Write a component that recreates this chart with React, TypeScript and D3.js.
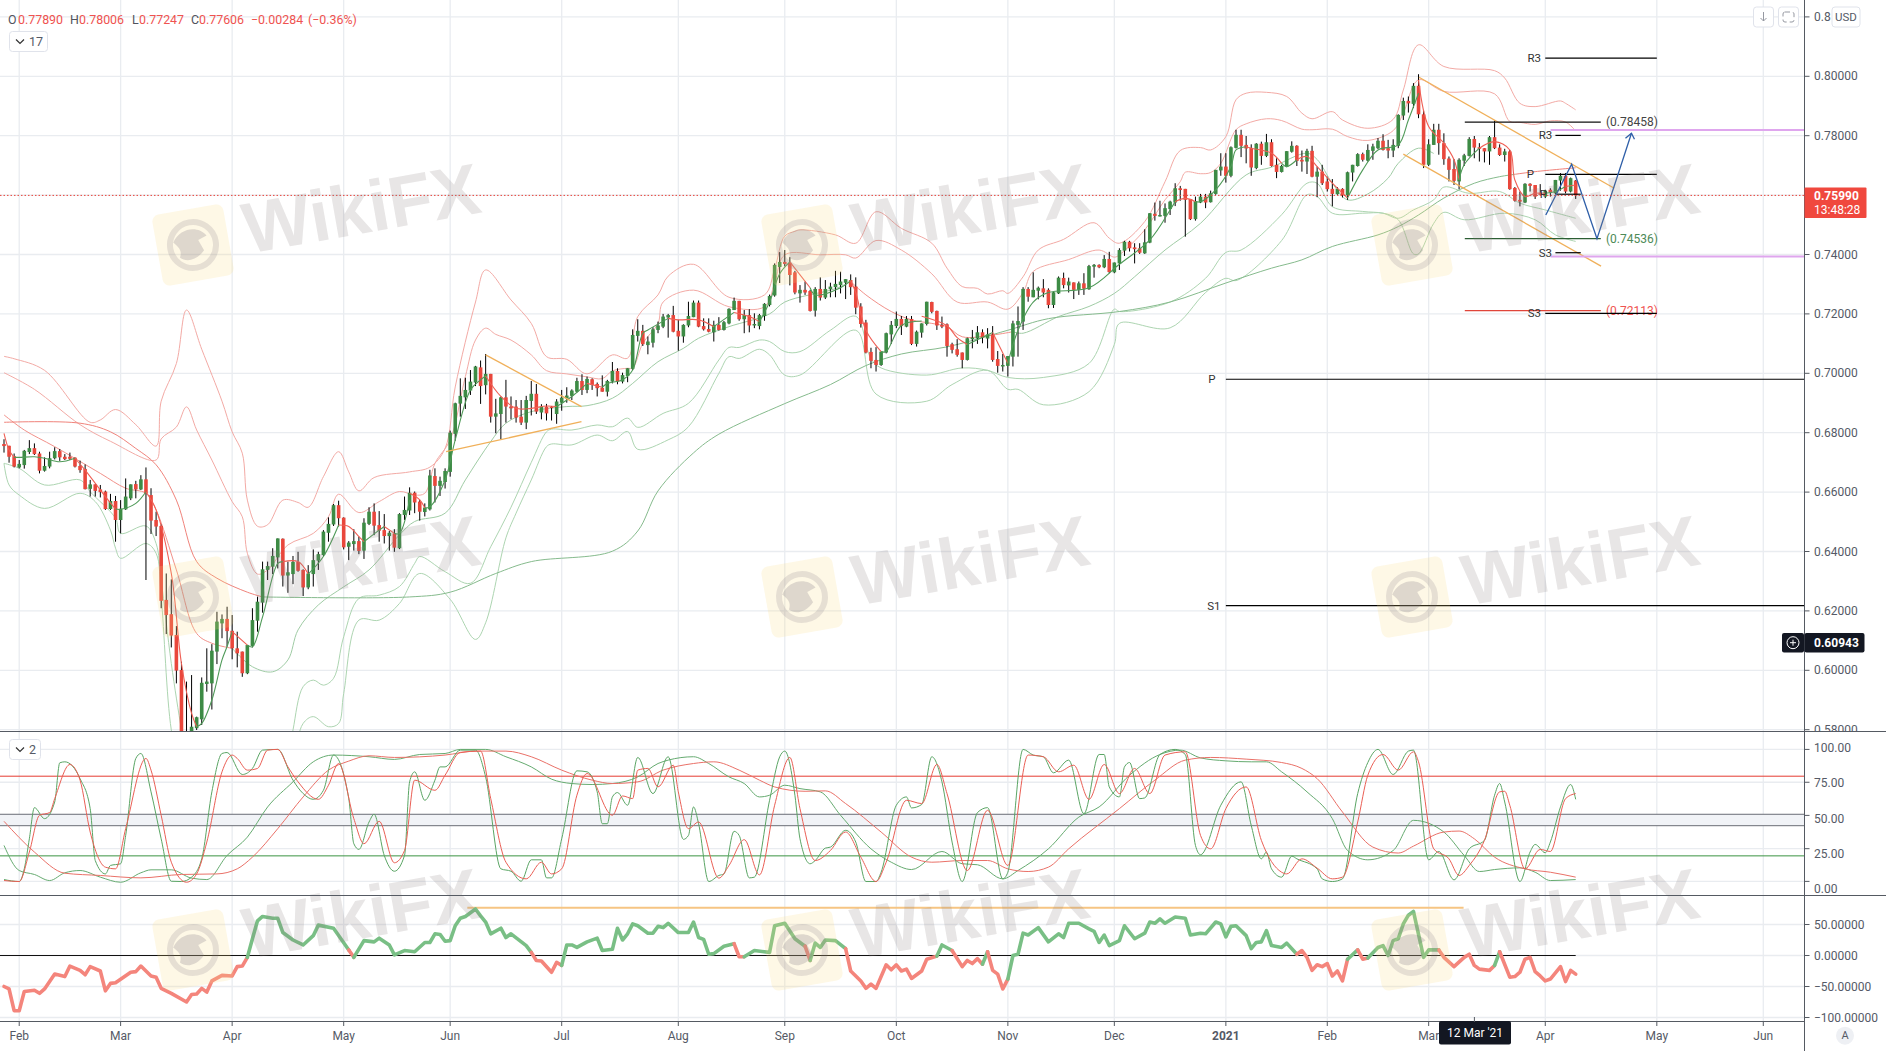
import { useEffect, useRef } from 'react';
import * as d3 from 'd3';

// Candles, daily, in 1/10000 of a price unit
const opens = [6762,6756,6721,6683,6691,6735,6748,6730,6672,6686,6714,6738,6719,6719,6716,6688,6678,6611,6626,6609,6602,6543,6570,6506,6542,6579,6627,6609,6643,6590,6506,6486,6237,6189,6119,6001,5780,5740,5805,5835,5954,5956,6063,6158,6173,6133,6074,6063,5990,6082,6167,6228,6338,6349,6380,6443,6319,6324,6365,6338,6279,6324,6369,6388,6463,6491,6556,6514,6416,6425,6435,6403,6493,6534,6489,6472,6452,6461,6411,6523,6538,6598,6568,6533,6542,6654,6621,6634,6668,6796,6898,6919,6942,6969,7020,6960,6998,6854,6863,6919,6888,6888,6854,6834,6907,6931,6868,6888,6888,6863,6901,6916,6924,6938,6974,6944,6980,6964,6951,6938,6972,7008,6972,6991,7015,7126,7143,7095,7103,7146,7157,7188,7196,7143,7124,7161,7189,7238,7159,7149,7138,7163,7146,7168,7213,7244,7182,7196,7161,7159,7193,7230,7262,7358,7375,7372,7340,7269,7281,7277,7211,7284,7255,7283,7290,7297,7305,7314,7292,7225,7171,7072,7045,7028,7070,7131,7159,7183,7157,7183,7099,7137,7166,7240,7210,7163,7165,7098,7081,7070,7045,7115,7117,7138,7117,7131,7048,7025,7025,7056,7163,7174,7284,7256,7278,7286,7281,7230,7269,7321,7296,7306,7281,7303,7283,7359,7365,7357,7385,7340,7370,7413,7443,7424,7421,7404,7440,7537,7530,7530,7553,7575,7623,7621,7587,7519,7575,7595,7576,7604,7683,7696,7665,7759,7803,7769,7759,7691,7773,7732,7778,7702,7678,7696,7746,7766,7719,7713,7749,7662,7679,7646,7621,7603,7621,7599,7676,7698,7738,7716,7749,7758,7783,7758,7750,7766,7868,7917,7907,7968,7872,7702,7769,7820,7775,7723,7688,7646,7716,7732,7789,7761,7758,7747,7795,7760,7735,7747,7624,7584,7575,7638,7634,7606,7595,7618,7606,7649,7665,7612,7649];
const closes = [6755,6719,6686,6695,6739,6748,6728,6672,6688,6714,6738,6717,6711,6712,6686,6674,6610,6626,6604,6600,6543,6570,6506,6544,6585,6626,6609,6643,6596,6504,6484,6234,6186,6117,5999,5780,5730,5810,5842,5958,5962,6066,6164,6173,6132,6074,6057,5990,6085,6169,6231,6340,6351,6385,6444,6319,6330,6365,6335,6279,6326,6371,6391,6467,6493,6556,6512,6414,6430,6435,6402,6497,6534,6487,6470,6452,6463,6413,6526,6540,6598,6565,6534,6548,6656,6621,6638,6671,6800,6899,6924,6944,6972,7023,6957,6998,6854,6865,6919,6888,6882,6851,6834,6910,6931,6871,6888,6865,6886,6905,6918,6925,6942,6974,6944,6981,6961,6950,6938,6974,7008,6972,6994,7017,7129,7143,7098,7107,7148,7161,7191,7196,7140,7124,7163,7193,7238,7157,7148,7140,7163,7146,7172,7217,7244,7182,7196,7161,7166,7196,7234,7260,7365,7375,7368,7331,7272,7281,7272,7210,7284,7255,7284,7292,7301,7309,7317,7290,7221,7166,7070,7042,7028,7073,7135,7163,7183,7159,7183,7099,7140,7168,7241,7207,7161,7157,7092,7079,7062,7045,7118,7120,7138,7120,7131,7045,7025,7028,7058,7168,7176,7284,7258,7281,7288,7272,7230,7273,7322,7297,7309,7281,7303,7285,7361,7365,7357,7385,7341,7373,7415,7443,7421,7418,7406,7441,7539,7530,7533,7556,7578,7623,7617,7584,7519,7580,7595,7575,7606,7685,7696,7665,7761,7803,7766,7757,7693,7773,7732,7778,7698,7678,7698,7748,7766,7715,7713,7749,7662,7679,7640,7620,7604,7621,7599,7677,7702,7738,7719,7752,7764,7783,7752,7750,7769,7870,7917,7909,7968,7872,7702,7771,7820,7775,7721,7685,7648,7719,7734,7789,7760,7758,7747,7795,7758,7735,7747,7620,7581,7578,7638,7631,7595,7601,7615,7609,7651,7665,7612,7657,7599];
const highs = [6778,6756,6730,6708,6742,6775,6764,6736,6717,6736,6751,6745,6728,6733,6717,6706,6693,6641,6627,6624,6605,6594,6587,6573,6646,6626,6638,6657,6683,6613,6534,6491,6326,6306,6149,6029,5962,5984,5844,5976,6074,6088,6197,6188,6214,6186,6130,6063,6085,6209,6248,6366,6366,6411,6444,6444,6366,6385,6399,6340,6354,6407,6399,6472,6515,6560,6571,6515,6435,6475,6450,6512,6549,6562,6536,6526,6469,6475,6529,6585,6616,6602,6574,6562,6675,6680,6652,6680,6807,6901,6983,6985,7011,7025,7043,7065,6998,6914,6922,6978,6922,6910,6910,6924,6974,6964,6896,6897,6890,6913,6944,6953,6946,6985,6997,6989,6983,6969,6993,6978,7038,7017,7002,7017,7148,7182,7163,7124,7155,7174,7200,7200,7227,7180,7165,7241,7245,7245,7185,7185,7177,7189,7176,7219,7255,7244,7213,7216,7202,7200,7236,7265,7370,7408,7415,7391,7345,7297,7309,7281,7290,7323,7314,7305,7345,7342,7317,7333,7323,7236,7180,7086,7088,7073,7137,7176,7208,7193,7193,7193,7144,7168,7241,7241,7211,7191,7168,7103,7115,7070,7120,7146,7159,7148,7152,7159,7075,7065,7058,7177,7225,7290,7290,7340,7292,7317,7286,7275,7326,7339,7322,7306,7309,7337,7365,7368,7367,7398,7409,7373,7421,7446,7446,7438,7438,7485,7539,7575,7581,7572,7581,7640,7631,7621,7587,7595,7604,7604,7615,7685,7741,7741,7764,7820,7820,7799,7771,7775,7780,7806,7788,7724,7702,7748,7781,7768,7750,7756,7766,7696,7702,7662,7654,7627,7623,7679,7702,7741,7743,7771,7773,7792,7805,7786,7788,7872,7928,7932,7977,8007,7884,7788,7840,7840,7808,7730,7721,7724,7739,7795,7799,7775,7758,7799,7851,7771,7756,7752,7627,7612,7640,7640,7634,7637,7618,7623,7651,7674,7674,7659,7651];
const lows = [6733,6699,6683,6680,6679,6728,6725,6663,6669,6680,6710,6705,6708,6708,6683,6665,6609,6585,6585,6582,6540,6540,6433,6461,6540,6573,6579,6607,6304,6459,6452,6209,6122,6077,5956,5740,5620,5510,5799,5816,5928,5868,6021,6108,6080,6037,6010,5978,5987,6077,6130,6194,6304,6324,6343,6282,6261,6290,6332,6250,6273,6282,6338,6385,6433,6486,6484,6407,6371,6403,6391,6375,6489,6455,6433,6427,6403,6399,6408,6506,6523,6529,6504,6518,6538,6565,6587,6612,6652,6773,6854,6880,6927,6957,6897,6929,6834,6798,6778,6834,6845,6834,6826,6812,6858,6863,6845,6841,6841,6830,6874,6901,6910,6935,6927,6933,6944,6922,6938,6922,6966,6963,6966,6970,7011,7107,7092,7064,7087,7135,7152,7120,7138,7076,7103,7155,7189,7155,7144,7138,7107,7144,7144,7165,7213,7177,7135,7138,7152,7148,7177,7225,7258,7304,7360,7296,7266,7238,7264,7208,7191,7245,7250,7256,7256,7269,7250,7264,7199,7154,7067,7017,7006,7025,7067,7099,7152,7129,7155,7095,7090,7120,7161,7202,7146,7152,7056,7067,7056,7017,7043,7084,7099,7101,7084,7039,7002,7006,6989,7023,7056,7146,7241,7256,7249,7256,7219,7220,7267,7286,7272,7250,7264,7264,7281,7322,7354,7354,7337,7337,7348,7395,7410,7370,7402,7402,7438,7514,7528,7507,7533,7563,7581,7460,7516,7514,7573,7556,7575,7601,7665,7642,7660,7757,7728,7707,7665,7687,7702,7728,7696,7657,7676,7694,7743,7698,7679,7671,7660,7593,7634,7612,7562,7601,7592,7584,7646,7696,7713,7713,7719,7755,7750,7724,7728,7758,7853,7878,7893,7859,7691,7698,7769,7736,7702,7646,7634,7620,7698,7730,7724,7713,7710,7702,7755,7732,7713,7618,7578,7562,7573,7612,7587,7599,7590,7595,7604,7615,7606,7609,7587];

// Band and average lines as [bar, price x 10000]
const upperOuter = [[0,7057],[2,7049],[8,7010],[17,6835],[19,6843],[22,6878],[26,6827],[30,6755],[31,6906],[34,7033],[36,7213],[39,7081],[43,6906],[45,6803],[47,6731],[48,6573],[50,6485],[52,6490],[55,6573],[58,6565],[60,6549],[63,6652],[66,6736],[68,6668],[70,6604],[73,6649],[80,6668],[84,6684],[87,6747],[89,6954],[93,7240],[95,7348],[100,7247],[104,7168],[107,7056],[111,7047],[115,6998],[120,7062],[123,7051],[125,7191],[129,7264],[131,7327],[136,7367],[143,7256],[150,7264],[152,7351],[154,7462],[156,7478],[157,7483],[164,7466],[168,7438],[172,7544],[177,7488],[183,7438],[186,7354],[189,7292],[192,7286],[194,7267],[197,7278],[198,7269],[201,7325],[204,7415],[209,7451],[215,7507],[218,7455],[220,7438],[225,7511],[229,7645],[232,7750],[236,7760],[238,7752],[241,7797],[243,7921],[245,7943],[249,7946],[253,7932],[256,7876],[258,7857],[262,7881],[264,7853],[269,7825],[274,7855],[276,7954],[279,8106],[284,8033],[294,8019],[296,7994],[299,7909],[302,7898],[307,7917],[308,7909],[310,7887]];
const upperInner = [[0,7002],[6,6946],[15,6827],[21,6771],[30,6708],[31,6779],[34,6819],[36,6887],[38,6809],[41,6708],[45,6568],[47,6517],[48,6394],[50,6324],[52,6338],[56,6422],[61,6461],[64,6517],[66,6593],[70,6531],[74,6568],[78,6602],[81,6590],[83,6596],[85,6697],[88,6776],[91,6989],[93,7112],[95,7152],[97,7131],[100,7112],[104,7062],[107,7009],[111,6998],[115,6988],[118,6982],[120,7008],[123,7017],[124,7017],[126,7101],[129,7168],[130,7240],[136,7280],[143,7224],[150,7224],[152,7304],[154,7399],[161,7399],[166,7399],[168,7388],[172,7447],[177,7415],[183,7335],[188,7240],[194,7240],[198,7216],[201,7272],[203,7343],[210,7383],[216,7415],[219,7391],[220,7399],[225,7483],[229,7584],[232,7645],[233,7677],[236,7672],[238,7676],[240,7707],[243,7820],[245,7840],[249,7857],[252,7851],[256,7822],[258,7820],[262,7822],[265,7797],[269,7784],[274,7817],[276,7876],[279,7988],[284,7949],[294,7941],[297,7848],[299,7845],[302,7838],[305,7850],[308,7846],[310,7816]];
const lowerInner = [[0,6697],[3,6680],[8,6624],[15,6641],[17,6601],[22,6512],[23,6461],[28,6486],[30,6427],[31,6304],[33,6023],[35,5799],[36,5700],[42,5500],[52,5500],[56,5700],[57,5799],[59,5945],[61,5967],[63,5950],[65,5973],[67,6113],[70,6242],[74,6253],[78,6282],[81,6360],[82,6383],[87,6332],[92,6293],[96,6416],[100,6549],[104,6700],[107,6803],[108,6812],[112,6809],[117,6826],[120,6820],[123,6849],[125,6818],[130,6865],[135,6899],[141,7045],[143,7087],[145,7087],[149,7112],[151,7107],[154,7073],[157,7073],[163,7145],[168,7192],[171,7049],[173,7018],[182,6994],[189,7018],[194,7010],[198,6986],[205,6986],[214,7033],[219,7216],[220,7208],[230,7240],[237,7320],[241,7407],[244,7415],[252,7534],[257,7640],[259,7640],[262,7561],[268,7545],[272,7539],[275,7522],[278,7550],[282,7584],[284,7627],[289,7606],[295,7612],[299,7573],[304,7550],[310,7522]];
const lowerOuter = [[0,6697],[1,6624],[3,6590],[8,6545],[15,6596],[18,6568],[21,6472],[22,6411],[23,6377],[28,6427],[30,6394],[31,6248],[33,5799],[35,5650],[40,5400],[50,5400],[57,5700],[59,5821],[61,5844],[64,5810],[66,5821],[67,5922],[70,6169],[74,6169],[78,6225],[82,6326],[88,6239],[93,6104],[95,6160],[99,6446],[101,6529],[104,6641],[107,6753],[108,6762],[112,6759],[117,6792],[120,6773],[123,6804],[125,6744],[131,6776],[135,6820],[141,7000],[143,7056],[145,7050],[149,7081],[151,7062],[154,6994],[157,6994],[168,7145],[172,6930],[182,6906],[187,6962],[194,7010],[198,6946],[200,6946],[205,6894],[214,6938],[219,7097],[220,7168],[230,7153],[237,7272],[241,7320],[243,7312],[252,7447],[257,7601],[259,7595],[262,7539],[268,7539],[272,7539],[275,7517],[278,7402],[279,7402],[282,7505],[284,7542],[288,7517],[296,7539],[302,7517],[306,7466],[310,7444]];

// Averages are drawn red while falling and green while rising
const mediumRuns = [
  ['r', [[0,6860],[4,6809],[10,6753],[19,6663],[24,6613],[28,6596],[30,6540],[34,6338],[38,6124],[41,6091],[45,6074]]],
  ['g', [[45,6074],[49,6012],[53,5995],[56,6035],[58,6136],[62,6220],[67,6281],[72,6338],[78,6456],[81,6501],[87,6529],[91,6641],[96,6770],[99,6832],[104,6871],[111,6888],[115,6891],[120,6916],[124,6966],[129,7039],[134,7084],[137,7118],[143,7157],[151,7200],[154,7240],[164,7285],[167,7309]]],
  ['r', [[167,7309],[170,7264],[175,7208],[179,7180],[183,7168],[186,7157],[189,7123],[195,7129],[199,7140]]],
  ['g', [[199,7140],[201,7135],[208,7191],[214,7225],[219,7269],[223,7325],[229,7415],[236,7505],[245,7668],[250,7694],[257,7741],[259,7720],[262,7640],[265,7584],[269,7604],[273,7657],[275,7707],[279,7758],[282,7740]]],
];
const longRuns = [
  ['r', [[0,6835],[15,6832],[21,6803],[26,6747],[30,6692],[34,6573],[38,6366],[42,6310],[48,6263],[51,6247]]],
  ['g', [[51,6247],[80,6247],[88,6263],[97,6326],[104,6366],[120,6401],[125,6469],[129,6604],[136,6732],[141,6795],[154,6898],[163,6962],[170,7026],[177,7065],[186,7089],[198,7145],[206,7184],[220,7208],[230,7240],[241,7304],[250,7354],[256,7382],[262,7427],[271,7466],[275,7494],[279,7533],[284,7590],[290,7640],[295,7662],[298,7670]]],
  ['r', [[298,7670],[302,7679],[310,7692]]],
];
const shortRuns = [
  ['r', [[0,6798],[1,6742],[2,6717]]],
  ['g', [[2,6717],[3,6717],[6,6719],[8,6714],[11,6702],[14,6714]]],
  ['r', [[14,6714],[16,6674],[20,6585],[22,6543]]],
  ['g', [[22,6543],[23,6542],[26,6562],[28,6601]]],
  ['r', [[28,6601],[30,6540],[33,6326],[35,6023],[37,5855],[38,5810]]],
  ['g', [[38,5810],[39,5821],[41,5900],[43,6035],[44,6080],[45,6130]]],
  ['r', [[45,6130],[48,6085]]],
  ['g', [[48,6085],[49,6079],[51,6180],[54,6360],[55,6366]]],
  ['r', [[55,6366],[58,6366],[60,6324]]],
  ['g', [[60,6324],[63,6383],[66,6489]]],
  ['r', [[66,6489],[68,6484],[70,6450],[71,6433]]],
  ['g', [[71,6433],[74,6472],[75,6484]]],
  ['r', [[75,6484],[77,6461]]],
  ['g', [[77,6461],[78,6461],[80,6574]]],
  ['r', [[80,6596],[82,6574],[83,6546]]],
  ['g', [[83,6546],[84,6551],[87,6641],[89,6776],[92,6944],[94,6978],[95,6991]]],
  ['r', [[95,6991],[98,6922],[101,6882],[104,6882],[107,6890],[109,6888]]],
  ['g', [[109,6888],[112,6922],[115,6966]]],
  ['r', [[115,6966],[118,6953]]],
  ['g', [[118,6953],[119,6966],[122,6978],[124,7011],[126,7135],[127,7146],[131,7185]]],
  ['r', [[131,7185],[133,7180],[137,7180],[140,7157]]],
  ['g', [[140,7157],[144,7205]]],
  ['r', [[144,7205],[147,7191],[149,7174]]],
  ['g', [[149,7174],[151,7240],[153,7335],[155,7375]]],
  ['r', [[155,7375],[159,7288]]],
  ['g', [[159,7288],[160,7264],[165,7288],[167,7312]]],
  ['r', [[167,7312],[168,7272],[170,7145],[173,7073]]],
  ['g', [[173,7073],[174,7073],[177,7161],[181,7176]]],
  ['r', [[181,7192],[186,7160],[188,7120],[190,7097]]],
  ['g', [[190,7097],[195,7137]]],
  ['r', [[195,7137],[198,7034]]],
  ['g', [[198,7034],[200,7145],[203,7240],[206,7272],[214,7288],[220,7367],[226,7449],[230,7550],[231,7578]]],
  ['r', [[231,7578],[233,7589],[235,7578]]],
  ['g', [[235,7578],[236,7578],[239,7618],[242,7696],[243,7752],[245,7763]]],
  ['r', [[245,7763],[246,7758],[250,7741],[252,7707]]],
  ['g', [[252,7707],[253,7696],[255,7719]]],
  ['r', [[255,7719],[257,7730],[259,7696],[262,7640],[265,7590]]],
  ['g', [[265,7590],[268,7685],[271,7752],[275,7769],[277,7853],[279,7943]]],
  ['r', [[279,7988],[281,7831],[284,7775],[286,7719],[287,7651]]],
  ['g', [[287,7651],[288,7702],[291,7758]]],
  ['r', [[291,7758],[294,7780],[297,7752],[298,7651],[300,7595],[302,7606],[304,7606]]],
  ['g', [[304,7606],[306,7612],[308,7629]]],
  ['r', [[308,7629],[310,7634]]],
];

// Stochastic pane, [bar, value]
const stochFastK = [[0,6.7],[3,5.3],[4,14.3],[5,35.6],[6,57.7],[8,49.9],[10,61.7],[11,89.5],[12,90.2],[15,78.3],[17,57],[18,20.2],[20,10.7],[21,16.7],[23,17.9],[24,38],[26,92.6],[27,96.1],[29,68.9],[31,35.6],[33,5.5],[35,5.3],[37,8.4],[39,21.4],[41,68.9],[43,96.1],[44,96.8],[47,81.2],[49,85.5],[51,98.5],[54,99],[57,77.2],[59,67.7],[61,63.6],[63,70],[65,95],[68,64.1],[69,32.1],[70,28.1],[72,47.5],[73,53],[75,23.8],[77,12.6],[79,23.8],[80,76],[81,83.1],[83,62.9],[85,77.2],[86,86.6],[87,86.6],[90,98.5],[93,98.5],[95,79.5],[98,14.3],[100,12.6],[102,5.5],[104,20.7],[106,20.7],[107,7.9],[108,7.9],[110,35.6],[113,83.8],[115,83.1],[117,68.9],[118,46.3],[119,46.3],[120,65.3],[121,68.4],[123,59.4],[125,93.3],[128,67.7],[131,93.8],[134,35.2],[135,38],[136,58.2],[137,46.3],[139,5.3],[141,9.6],[142,10.7],[144,40.9],[145,38],[147,7.9],[148,8.4],[151,62.9],[153,93.8],[154,97.8],[156,66.5],[157,35.6],[159,17.9],[160,20.2],[162,29],[163,29.7],[166,41.6],[168,33.3],[170,5.3],[172,5.3],[173,11.9],[176,59.4],[178,65.3],[179,57.5],[181,59.9],[183,93.8],[185,76],[187,33.3],[189,5.3],[192,54.2],[194,57.7],[197,7.2],[198,11.9],[201,99],[203,95],[205,93.8],[207,82.4],[210,91.4],[213,53.4],[216,95.4],[217,95.4],[218,72.4],[220,65.3],[221,86.6],[222,89.7],[224,64.1],[225,64.6],[228,95.4],[231,99],[233,95.4],[235,30.9],[236,24.3],[240,59.4],[244,76],[246,45.1],[248,21.4],[249,26.2],[250,14.3],[252,8.4],[254,23.3],[255,21.4],[259,14.3],[260,7.2],[262,5.3],[264,7.2],[267,67.7],[269,89.7],[271,99],[274,81.2],[277,97.8],[278,98.5],[281,20.7],[283,26.6],[286,6.5],[289,28.5],[292,34.5],[294,66.5],[295,74.8],[296,61.7],[299,5.3],[301,26.2],[302,31.6],[304,25.7],[305,33.3],[307,58.2],[309,74.1],[310,63.6]];
const stochFastD = [[0,6],[3,5.3],[5,26.2],[7,52.3],[9,54.2],[10,64.1],[13,88.3],[15,77.2],[17,40.4],[20,15.5],[22,14.3],[24,42.8],[28,92.6],[29,84.3],[31,52.3],[33,19],[36,4.8],[38,10.7],[40,33.3],[43,83.1],[45,95],[46,92.6],[48,84.3],[50,85.5],[52,98.5],[54,99],[56,86.6],[58,76],[62,63.6],[64,73.6],[66,89],[69,49.9],[71,32.1],[74,48],[77,18.6],[79,27.3],[81,77.2],[85,70],[87,80.7],[90,96.9],[94,97.8],[96,64.1],[99,19],[103,7.2],[106,19],[108,10.7],[110,14.3],[113,66.5],[115,81.9],[120,52.3],[122,66],[124,64.1],[125,84.3],[127,85.5],[129,72.4],[132,87.8],[133,68.9],[135,42.8],[137,47.5],[141,7.7],[143,16.7],[146,35],[149,10],[152,59.4],[155,93.3],[157,57],[160,20.2],[163,27.3],[166,40.4],[169,22.6],[172,5.3],[174,19],[178,62.9],[181,60.6],[184,88.3],[186,67.7],[190,13.1],[194,55.8],[198,16.7],[202,95],[205,93.8],[208,83.1],[211,87.8],[214,63.6],[217,88.3],[220,67.7],[223,85.5],[226,67.7],[229,95],[233,97.3],[236,38],[238,28.5],[241,57],[245,72.4],[248,34.5],[252,11.9],[253,10.7],[256,21.4],[259,14.8],[262,7.2],[264,8.4],[267,47.5],[269,80.7],[272,95.4],[275,84.3],[278,97.3],[279,90.2],[282,28.5],[285,21.4],[287,9.6],[289,16.7],[292,34.5],[295,68.9],[296,69.3],[297,59.4],[300,14.3],[303,28.1],[305,26.6],[308,64.1],[310,67.7]];
const stochSlowK = [[0,30.9],[3,13.1],[6,10.3],[9,6],[12,11.5],[15,13.1],[19,8.4],[23,4.8],[27,11.5],[29,13.6],[33,13.6],[37,7.7],[40,6.7],[44,23.8],[48,36.8],[52,58.2],[57,76],[61,90.2],[65,95],[72,93.8],[77,91.9],[82,95.4],[87,96.1],[90,99],[95,99],[99,93.8],[104,86.6],[108,77.9],[112,74.8],[116,74.1],[120,74.8],[125,79.5],[129,89],[131,91.4],[136,93.8],[139,89],[143,79.5],[146,74.8],[149,65.3],[151,66.5],[154,73.6],[157,71.2],[161,68.9],[165,52.3],[171,28.5],[175,19],[179,13.8],[185,26.6],[189,17.9],[192,17.2],[197,7.2],[200,13.1],[206,28.5],[212,51],[216,58.2],[222,80.7],[228,95.4],[232,98.5],[236,93],[241,90.9],[246,90.2],[249,90.2],[252,83.1],[257,68.9],[262,49.9],[265,27.3],[269,20.7],[274,27.3],[278,48.7],[284,40.4],[288,23.8],[291,12.4],[294,13.8],[299,15],[302,11.9],[305,6],[310,6.7]];
const stochSlowD = [[0,48],[6,26.2],[12,11.2],[19,9.6],[27,7.9],[35,10.3],[42,10.7],[46,14.3],[49,22.6],[54,42.8],[59,65.3],[64,84.3],[68,90.7],[72,94.5],[77,93.3],[87,95],[93,97.8],[99,97.8],[104,93.8],[110,84.3],[116,77.2],[120,74.8],[125,76],[130,84.3],[136,89],[140,90.2],[145,84.3],[149,77.2],[152,72.4],[158,69.3],[162,69.6],[166,60.6],[173,40.4],[179,22.6],[183,19],[189,20.2],[194,20.2],[198,14.3],[202,12.4],[206,15.5],[210,28.5],[220,57],[227,77.2],[233,91.4],[238,93.3],[245,92.1],[252,89.7],[256,85.5],[259,78.3],[264,54.6],[270,29.7],[275,25.5],[278,30.4],[284,40.4],[287,41.1],[290,35.6],[294,22.6],[300,14.3],[305,11.9],[310,8.4]];

// CCI pane, [bar, value], split by colour
const cciRuns = [
  ['r', [[0,-50],[1,-54],[2,-89],[3,-89],[4,-58],[6,-56],[7,-61],[8,-54],[10,-30],[12,-34],[13,-17],[15,-24],[16,-31],[17,-18],[19,-25],[20,-57],[21,-45],[22,-44],[25,-27],[26,-26],[27,-17],[29,-33],[30,-35],[31,-53],[33,-61],[36,-75],[37,-63],[38,-62],[39,-53],[40,-59],[41,-41],[43,-32],[45,-33],[46,-18],[47,-17],[48,-3]]],
  ['g', [[48,-3],[49,27],[50,56],[51,63],[53,60],[54,60],[55,37],[57,25],[59,17],[61,32],[62,49],[65,44],[68,9]]],
  ['r', [[68,9],[69,-3]]],
  ['g', [[69,-3],[71,24],[73,22],[74,28],[76,17],[77,1],[79,8],[81,6],[83,21],[84,21],[85,35],[86,34],[87,23],[88,24],[89,48],[90,60],[91,63],[93,75],[94,64],[95,54],[96,35],[98,44],[99,29],[100,35],[103,16],[104,5]]],
  ['r', [[104,5],[105,-8],[106,-9],[108,-27],[109,-11],[110,-16]]],
  ['g', [[110,-16],[111,17],[112,17],[113,13],[115,22],[117,28],[118,8],[120,10],[121,44],[122,25],[123,35],[124,51],[125,48],[127,36],[128,36],[129,47],[130,45],[131,52],[133,37],[135,37],[136,54],[137,29],[138,26],[139,2],[140,3],[142,15],[144,19]]],
  ['r', [[144,19],[145,-2],[146,-2]]],
  ['g', [[146,-2],[148,8],[151,5],[152,48],[154,52],[156,27],[158,15]]],
  ['r', [[158,15],[159,-8]]],
  ['g', [[159,-8],[160,20],[161,13],[162,25],[164,24],[166,11]]],
  ['r', [[166,11],[167,-25],[169,-41],[170,-53],[171,-46],[172,-53],[174,-15],[175,-23],[176,-15],[177,-25],[178,-22],[179,-37],[181,-25],[182,-6],[184,-1]]],
  ['g', [[184,-1],[185,17],[187,8]]],
  ['r', [[187,8],[189,-18],[190,-8],[191,-13],[192,-5],[193,-14]]],
  ['g', [[193,-14],[194,6]]],
  ['r', [[194,6],[195,-24],[196,-30],[197,-54],[198,-38]]],
  ['g', [[198,-38],[199,0],[200,2],[201,36],[202,33],[204,45],[206,22],[208,35],[209,29],[210,52],[212,52],[214,43],[215,39],[216,21],[217,33],[218,16],[220,24],[221,48],[223,27],[225,36],[226,54],[227,52],[228,59],[229,52],[231,62],[233,60],[234,33],[236,36],[237,35],[239,54],[240,51],[241,30],[242,47],[243,48],[245,32],[246,11],[247,21],[248,22],[249,40],[250,16],[252,13],[253,20],[255,2]]],
  ['r', [[255,2],[256,8],[257,-3],[258,-24],[259,-15],[260,-18],[261,-13],[262,-33],[263,-25],[264,-41],[265,-6]]],
  ['g', [[265,-6],[267,9]]],
  ['r', [[267,9],[268,-6],[269,-4]]],
  ['g', [[269,-4],[271,13],[272,16],[273,0],[274,24],[275,27],[276,51],[277,65],[278,71],[280,-3],[281,9],[283,9]]],
  ['r', [[283,9],[284,-3],[286,-18],[288,-3],[289,2],[290,-16],[291,-22],[293,-24],[294,-16]]],
  ['g', [[294,-16],[295,6]]],
  ['r', [[295,6],[297,-35],[298,-34],[299,-27],[300,-6],[301,-3],[302,-26],[303,-33],[304,-41],[305,-38],[307,-18],[308,-42],[309,-24],[310,-30]]],
];

// Axis ticks and labels
const monthBars = [3,23,45,67,88,110,133,154,176,198,219,241,261,281,304,326,347];
const monthLabels = ['Feb','Mar','Apr','May','Jun','Jul','Aug','Sep','Oct','Nov','Dec','2021','Feb','Mar','Apr','May','Jun'];
const priceTicks = [0.82,0.8,0.78,0.76,0.74,0.72,0.7,0.68,0.66,0.64,0.62,0.6,0.58];
const stochGrid = [99,75.7,52.2,28.6,5.4];
const stochLabels = [100,75,50,25,0];
const cciTicks = [50,0,-50,-100];

// Drawing tools on the chart
const pivots = [
  { label: 'R3', price: 0.8061, from: 304, to: 326, labelDx: -11 },
  { label: 'R3', price: 0.7801, from: 306, to: 311, labelDx: -10 },
  { label: 'P', price: 0.767, from: 304, to: 326, labelDx: -15 },
  { label: 'P', price: 0.7603, from: 306, to: 311, labelDx: -12 },
  { label: 'S3', price: 0.7406, from: 306, to: 311, labelDx: -10 },
  { label: 'S3', price: 0.7202, from: 304, to: 326, labelDx: -11 },
  { label: 'P', price: 0.698, from: 241, to: 355.1, labelDx: -14 },
  { label: 'S1', price: 0.6218, from: 241, to: 355.1, labelDx: -12 },
];
const targets = [
  { text: '(0.78458)', price: 0.78458, color: '#111111', textColor: '#444444' },
  { text: '(0.74536)', price: 0.74536, color: '#2c5e34', textColor: '#4d8a57' },
  { text: '(0.72113)', price: 0.72113, color: '#e0453a', textColor: '#ef5350' },
];
const magentaLevels = [0.7819, 0.7393];
const orangeLines = [
  [[95,0.7062],[113.9,0.6888]],
  [[87.2,0.6736],[113.9,0.6837]],
  [[279.1,0.7997],[317.6,0.7623]],
  [[276,0.7738],[315,0.7361]],
];
const bluePath = [[304.1,0.7533],[309.2,0.7704],[314.2,0.7453],[321,0.7808]];
const watermarkRows = [245, 597, 950];
const watermarkCols = [193, 802, 1412];
const header = [
  { t: 'O', x: 8, c: '#50535e' }, { t: '0.77890', x: 18, c: '#ef5350' },
  { t: 'H', x: 70, c: '#50535e' }, { t: '0.78006', x: 79, c: '#ef5350' },
  { t: 'L', x: 132, c: '#50535e' }, { t: '0.77247', x: 139, c: '#ef5350' },
  { t: 'C', x: 191, c: '#50535e' }, { t: '0.77606', x: 199, c: '#ef5350' },
  { t: '\u22120.00284', x: 251, c: '#ef5350' }, { t: '(\u22120.36%)', x: 308, c: '#ef5350' },
];

const W = 1886;
const H = 1051;
const AXIS_X = 1804.5;
const RED = '#e9473c';
const GREEN = '#3d8b45';
const TEXT = '#555a66';
const GRID = '#e9ecf0';
const FONT = 'Roboto, sans-serif';

export default function App() {
  const svgRef = useRef<SVGSVGElement>(null);

  useEffect(() => {
    const svg = d3.select(svgRef.current);
    svg.selectAll('*').remove();

    const x = d3.scaleLinear().domain([0, 310]).range([4, 4 + 310 * 5.07]);
    const yPrice = d3.scaleLinear().domain([0.8, 0.7]).range([76.3, 373.3]);
    const yPip = (p: number) => yPrice(p / 10000);
    const yStoch = d3.scaleLinear().domain([0, 100]).range([889, 748]);
    const yCci = d3.scaleLinear().domain([0, 50]).range([955.5, 924.5]);

    svg.append('rect').attr('width', W).attr('height', H).attr('fill', '#fff');

    const defs = svg.append('defs');
    defs.append('clipPath').attr('id', 'main-clip').append('rect')
      .attr('width', AXIS_X).attr('height', 731);
    defs.append('clipPath').attr('id', 'scale-clip').append('rect')
      .attr('x', AXIS_X).attr('width', W - AXIS_X).attr('height', 732);

    // Grid
    const grid = svg.append('g').attr('stroke', GRID).attr('stroke-width', 1.3);
    grid.selectAll('.v').data(monthBars).enter().append('line')
      .attr('x1', d => x(d)).attr('x2', d => x(d))
      .attr('y1', 0).attr('y2', 1022);
    grid.selectAll('.p').data(priceTicks).enter().append('line')
      .attr('x1', 0).attr('x2', AXIS_X)
      .attr('y1', d => yPrice(d)).attr('y2', d => yPrice(d));
    grid.selectAll('.s').data(stochGrid).enter().append('line')
      .attr('x1', 0).attr('x2', AXIS_X)
      .attr('y1', d => yStoch(d)).attr('y2', d => yStoch(d));
    grid.selectAll('.c').data(cciTicks).enter().append('line')
      .attr('x1', 0).attr('x2', AXIS_X)
      .attr('y1', d => yCci(d)).attr('y2', d => yCci(d));

    const main = svg.append('g').attr('clip-path', 'url(#main-clip)');

    // Bands
    const pipLine = d3.line<number[]>()
      .x(d => x(d[0])).y(d => yPip(d[1]))
      .curve(d3.curveCatmullRom.alpha(0.5));
    const addPip = (pts: number[][], color: string, width = 1) =>
      main.append('path').datum(pts)
        .attr('fill', 'none').attr('stroke', color)
        .attr('stroke-width', width)
        .attr('d', pipLine);
    addPip(upperOuter, '#f3aaa5');
    addPip(upperInner, '#f3aaa5');
    addPip(lowerInner, '#add5b1');
    addPip(lowerOuter, '#add5b1');
    mediumRuns.forEach(([c, pts]: any) => addPip(pts, c === 'r' ? '#f2918a' : '#a0cca5'));
    longRuns.forEach(([c, pts]: any) => addPip(pts, c === 'r' ? '#f0837b' : '#86bb8d'));

    // Candles
    const bars = main.append('g');
    opens.forEach((o, i) => {
      const c = closes[i];
      bars.append('line')
        .attr('x1', x(i)).attr('x2', x(i))
        .attr('y1', yPip(highs[i])).attr('y2', yPip(lows[i]))
        .attr('stroke', '#000').attr('stroke-width', 1);
      bars.append('rect')
        .attr('x', x(i) - 1.8).attr('width', 3.6)
        .attr('y', yPip(Math.max(o, c)))
        .attr('height', Math.max(1.5, Math.abs(yPip(o) - yPip(c))))
        .attr('fill', c >= o ? GREEN : RED);
    });
    shortRuns.forEach(([c, pts]: any) => addPip(pts, c === 'r' ? '#ef5f55' : '#4f9a58', 1.1));

    // Last price line
    svg.append('line')
      .attr('x1', 0).attr('x2', AXIS_X)
      .attr('y1', yPrice(0.7599)).attr('y2', yPrice(0.7599))
      .attr('stroke', '#e8453c').attr('stroke-width', 1)
      .attr('stroke-dasharray', '1.5,2');

    // Trend lines and levels
    const priceLine = d3.line<number[]>().x(d => x(d[0])).y(d => yPrice(d[1]));
    orangeLines.forEach(pts => {
      main.append('path').datum(pts)
        .attr('fill', 'none').attr('stroke', '#f0b05a').attr('stroke-width', 1.3)
        .attr('d', priceLine);
    });
    magentaLevels.forEach(p => {
      main.append('line')
        .attr('x1', 1550.6).attr('x2', AXIS_X)
        .attr('y1', yPrice(p)).attr('y2', yPrice(p))
        .attr('stroke', '#dfa6ee').attr('stroke-width', 2);
    });
    targets.forEach(t => {
      main.append('line')
        .attr('x1', 1464.8).attr('x2', 1600.8)
        .attr('y1', yPrice(t.price)).attr('y2', yPrice(t.price))
        .attr('stroke', t.color).attr('stroke-width', 1.2);
      main.append('text')
        .attr('x', 1606).attr('y', yPrice(t.price) + 4)
        .attr('font-family', FONT).attr('font-size', 12)
        .attr('fill', t.textColor).text(t.text);
    });
    pivots.forEach(p => {
      main.append('line')
        .attr('x1', x(p.from)).attr('x2', x(p.to))
        .attr('y1', yPrice(p.price)).attr('y2', yPrice(p.price))
        .attr('stroke', '#000').attr('stroke-width', 1.2);
      main.append('text')
        .attr('x', x(p.from) + p.labelDx).attr('y', yPrice(p.price) + 4)
        .attr('text-anchor', 'middle')
        .attr('font-family', FONT).attr('font-size', 11.5)
        .attr('fill', '#333').text(p.label);
    });

    // Projection arrow
    main.append('path').datum(bluePath)
      .attr('fill', 'none').attr('stroke', '#2f5fa8').attr('stroke-width', 1.3)
      .attr('d', priceLine);
    const tip = bluePath[bluePath.length - 1];
    const tx = x(tip[0]);
    const ty = yPrice(tip[1]);
    main.append('path')
      .attr('d', `M${tx - 6},${ty + 5}L${tx},${ty}L${tx + 3},${ty + 6}`)
      .attr('fill', 'none').attr('stroke', '#2f5fa8').attr('stroke-width', 1.3);

    // Stochastic pane
    svg.append('rect')
      .attr('x', 0).attr('width', AXIS_X)
      .attr('y', yStoch(53)).attr('height', yStoch(44.9) - yStoch(53))
      .attr('fill', '#f1f3f7');
    const stochLevels = [
      { v: 80, c: '#e53a30' }, { v: 53, c: '#6a6d76' },
      { v: 44.9, c: '#6a6d76' }, { v: 23.5, c: '#3a9442' },
    ];
    stochLevels.forEach(l => {
      svg.append('line')
        .attr('x1', 0).attr('x2', AXIS_X)
        .attr('y1', yStoch(l.v)).attr('y2', yStoch(l.v))
        .attr('stroke', l.c).attr('stroke-width', 1);
    });
    const stochLine = d3.line<number[]>()
      .x(d => x(d[0])).y(d => yStoch(d[1]))
      .curve(d3.curveMonotoneX);
    [
      { pts: stochSlowK, c: '#66ab70' },
      { pts: stochSlowD, c: '#ea7168' },
      { pts: stochFastK, c: '#5aa564' },
      { pts: stochFastD, c: '#ea5f55' },
    ].forEach(s => {
      svg.append('path').datum(s.pts)
        .attr('fill', 'none').attr('stroke', s.c).attr('stroke-width', 1)
        .attr('d', stochLine);
    });

    // CCI pane
    svg.append('line')
      .attr('x1', 0).attr('x2', x(310))
      .attr('y1', yCci(0)).attr('y2', yCci(0))
      .attr('stroke', '#111').attr('stroke-width', 1);
    svg.append('line')
      .attr('x1', 467.3).attr('x2', 1463.6)
      .attr('y1', yCci(77)).attr('y2', yCci(77))
      .attr('stroke', '#f6c583').attr('stroke-width', 2);
    const cciLine = d3.line<number[]>().x(d => x(d[0])).y(d => yCci(d[1]));
    cciRuns.forEach(([c, pts]: any) => {
      svg.append('path').datum(pts)
        .attr('fill', 'none')
        .attr('stroke', c === 'r' ? '#f4857c' : '#79bf85')
        .attr('stroke-width', 3.6)
        .attr('stroke-linejoin', 'round')
        .attr('stroke-linecap', 'round')
        .attr('d', cciLine);
    });

    // Watermarks
    const marks = svg.append('g').attr('pointer-events', 'none');
    watermarkRows.forEach(wy => {
      watermarkCols.forEach(wx => {
        const g = marks.append('g').attr('transform', `translate(${wx},${wy}) rotate(-10)`);
        g.append('rect')
          .attr('x', -36).attr('y', -36).attr('width', 72).attr('height', 72).attr('rx', 7)
          .attr('fill', 'rgba(250,222,130,0.2)');
        g.append('circle').attr('r', 23)
          .attr('fill', 'none').attr('stroke', 'rgba(120,112,125,0.18)').attr('stroke-width', 6);
        g.append('path')
          .attr('d', 'M-19,-6C-10,-19 8,-19 15,-7L6,-4L10,7C2,15 -9,17 -15,10C-11,3 -15,-1 -19,-6Z')
          .attr('fill', 'rgba(120,112,125,0.24)');
        g.append('text')
          .attr('x', 172).attr('y', 18)
          .attr('text-anchor', 'middle')
          .attr('font-family', '"Liberation Sans", sans-serif')
          .attr('font-weight', 700).attr('font-size', 72)
          .attr('fill', 'rgba(140,130,130,0.2)')
          .text('WikiFX');
      });
    });

    // Pane borders and right scale
    const borders = svg.append('g').attr('stroke', '#555a62').attr('stroke-width', 1);
    borders.append('line').attr('x1', 0).attr('x2', W).attr('y1', 731.5).attr('y2', 731.5);
    borders.append('line').attr('x1', 0).attr('x2', W).attr('y1', 895.5).attr('y2', 895.5);
    borders.append('line').attr('x1', 0).attr('x2', AXIS_X).attr('y1', 1021.5).attr('y2', 1021.5);
    borders.append('line').attr('x1', AXIS_X).attr('x2', AXIS_X).attr('y1', 0).attr('y2', H);

    const scaleText = (sel: any) => sel
      .attr('font-family', FONT).attr('font-size', 12)
      .attr('fill', TEXT).attr('dominant-baseline', 'central');

    const priceScale = svg.append('g').attr('clip-path', 'url(#scale-clip)');
    priceTicks.forEach((p, i) => {
      priceScale.append('line')
        .attr('x1', AXIS_X).attr('x2', AXIS_X + 5)
        .attr('y1', yPrice(p)).attr('y2', yPrice(p)).attr('stroke', '#555a62');
      // the top label runs under the USD button, only its start shows
      priceScale.append('text').attr('x', 1814).attr('y', yPrice(p))
        .call(scaleText).text(i === 0 ? '0.8' : d3.format('.5f')(p));
    });
    stochGrid.forEach(v => {
      svg.append('line')
        .attr('x1', AXIS_X).attr('x2', AXIS_X + 5)
        .attr('y1', yStoch(v)).attr('y2', yStoch(v)).attr('stroke', '#555a62');
    });
    stochLabels.forEach(v => {
      svg.append('text').attr('x', 1814).attr('y', yStoch(v))
        .call(scaleText).text(d3.format('.2f')(v));
    });
    cciTicks.forEach(v => {
      svg.append('line')
        .attr('x1', AXIS_X).attr('x2', AXIS_X + 5)
        .attr('y1', yCci(v)).attr('y2', yCci(v)).attr('stroke', '#555a62');
      svg.append('text').attr('x', 1814).attr('y', yCci(v))
        .call(scaleText).text(d3.format('.5f')(v).replace('-', '\u2212'));
    });

    // Time scale
    monthBars.forEach((b, i) => {
      svg.append('line')
        .attr('x1', x(b)).attr('x2', x(b))
        .attr('y1', 1022).attr('y2', 1026).attr('stroke', '#555a62');
      svg.append('text')
        .attr('x', x(b)).attr('y', 1036)
        .attr('text-anchor', 'middle').attr('dominant-baseline', 'central')
        .attr('font-family', FONT).attr('font-size', 12)
        .attr('font-weight', monthLabels[i] === '2021' ? 700 : 400)
        .attr('fill', TEXT).text(monthLabels[i]);
    });

    // Crosshair date
    svg.append('rect')
      .attr('x', 1439).attr('y', 1021).attr('width', 72).attr('height', 23.5).attr('rx', 2)
      .attr('fill', '#131722');
    svg.append('line')
      .attr('x1', 1474.4).attr('x2', 1474.4).attr('y1', 1017).attr('y2', 1022)
      .attr('stroke', '#555a62');
    svg.append('text')
      .attr('x', 1475).attr('y', 1033)
      .attr('text-anchor', 'middle').attr('dominant-baseline', 'central')
      .attr('font-family', FONT).attr('font-size', 12).attr('fill', '#fff')
      .text("12 Mar '21");

    // Last price tag
    svg.append('rect')
      .attr('x', AXIS_X).attr('y', 187.5).attr('width', 62).attr('height', 30.5).attr('rx', 1)
      .attr('fill', '#f0483e');
    svg.append('text')
      .attr('x', 1814).attr('y', 195.5).attr('dominant-baseline', 'central')
      .attr('font-family', FONT).attr('font-size', 12).attr('font-weight', 700)
      .attr('fill', '#fff').text('0.75990');
    svg.append('text')
      .attr('x', 1814).attr('y', 210).attr('dominant-baseline', 'central')
      .attr('font-family', FONT).attr('font-size', 12)
      .attr('fill', '#fff').text('13:48:28');

    // Crosshair price
    svg.append('rect')
      .attr('x', AXIS_X).attr('y', 633).attr('width', 60).attr('height', 19.5).attr('rx', 2)
      .attr('fill', '#131722');
    svg.append('rect')
      .attr('x', 1782).attr('y', 633).attr('width', 22).attr('height', 19.5).attr('rx', 2)
      .attr('fill', '#131722');
    svg.append('circle')
      .attr('cx', 1793).attr('cy', 642.7).attr('r', 6)
      .attr('fill', 'none').attr('stroke', '#fff');
    svg.append('path')
      .attr('d', 'M1790,642.7h6M1793,639.7v6')
      .attr('stroke', '#fff');
    svg.append('text')
      .attr('x', 1814).attr('y', 642.7).attr('dominant-baseline', 'central')
      .attr('font-family', FONT).attr('font-size', 12).attr('font-weight', 700)
      .attr('fill', '#fff').text('0.60943');

    // Chart buttons
    const btn = (bx: number, by: number, bw: number, bh: number) =>
      svg.append('rect')
        .attr('x', bx).attr('y', by).attr('width', bw).attr('height', bh).attr('rx', 3)
        .attr('fill', '#fff').attr('stroke', '#e0e3eb');
    btn(1753.5, 7, 20, 20);
    svg.append('path').attr('d', 'M1763.5,12v9M1760.5,18l3,3l3,-3')
      .attr('fill', 'none').attr('stroke', '#9598a1');
    btn(1778.5, 7, 20, 20);
    svg.append('rect').attr('x', 1783).attr('y', 12).attr('width', 11).attr('height', 10).attr('rx', 2)
      .attr('fill', 'none').attr('stroke', '#9598a1').attr('stroke-dasharray', '5,3');
    btn(1832, 7, 28, 20);
    svg.append('text')
      .attr('x', 1846).attr('y', 17).attr('text-anchor', 'middle').attr('dominant-baseline', 'central')
      .attr('font-family', FONT).attr('font-size', 11.5).attr('fill', TEXT).text('USD');

    // Auto scale button
    svg.append('circle').attr('cx', 1845).attr('cy', 1035.7).attr('r', 9).attr('fill', '#eef0f4');
    svg.append('text')
      .attr('x', 1845).attr('y', 1035.7).attr('text-anchor', 'middle').attr('dominant-baseline', 'central')
      .attr('font-family', FONT).attr('font-size', 11).attr('fill', TEXT).text('A');

    // Header and collapse buttons
    header.forEach(h => {
      svg.append('text')
        .attr('x', h.x).attr('y', 19).attr('dominant-baseline', 'central')
        .attr('font-family', FONT).attr('font-size', 12.4)
        .attr('fill', h.c).text(h.t);
    });
    const collapse = (by: number, bw: number, label: string) => {
      btn(9.5, by, bw, 20);
      svg.append('path').attr('d', `M16,${by + 8}l4,4l4,-4`)
        .attr('fill', 'none').attr('stroke', '#333').attr('stroke-width', 1.2);
      svg.append('text')
        .attr('x', 29).attr('y', by + 10).attr('dominant-baseline', 'central')
        .attr('font-family', FONT).attr('font-size', 12.5).attr('fill', TEXT).text(label);
    };
    collapse(31.5, 38, '17');
    collapse(739.5, 31, '2');
  }, []);

  return (
    <svg
      ref={svgRef}
      width={W}
      height={H}
      style={{ position: 'absolute', left: 0, top: 0, display: 'block' }}
    />
  );
}
